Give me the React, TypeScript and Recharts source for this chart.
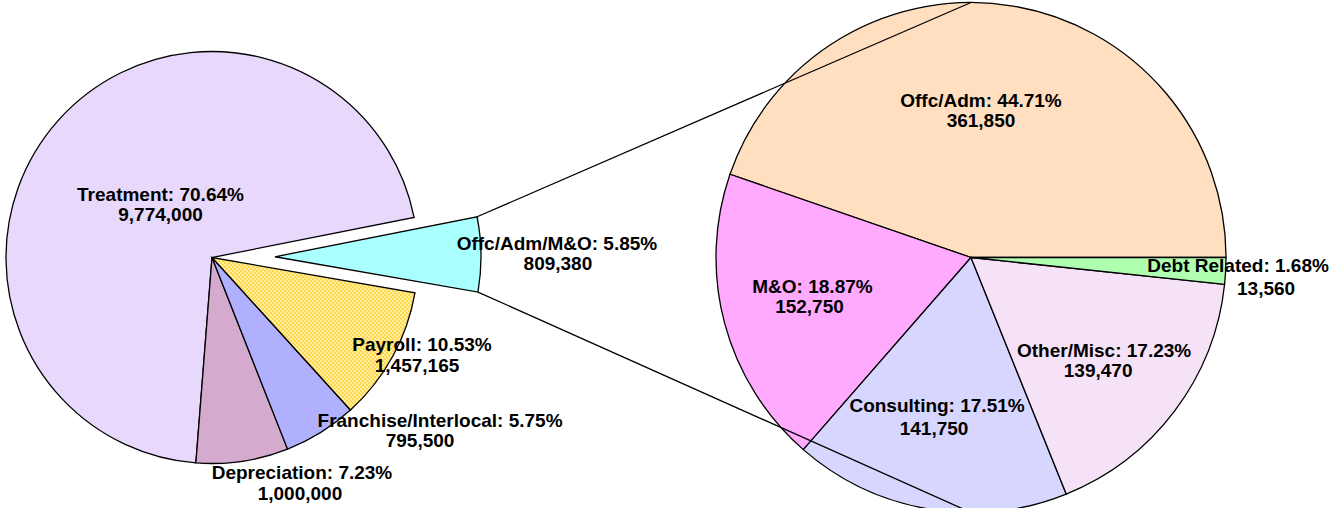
import React from 'react';
import { PieChart, Pie, Cell } from 'recharts';

// ---------- data ----------
const mainCategories = ['Treatment', 'Depreciation', 'Franchise/Interlocal', 'Payroll', 'Offc/Adm/M&O'];
const mainValues = [9774000, 1000000, 795500, 1457165, 809380];
const subCategories = ['Offc/Adm', 'M&O', 'Consulting', 'Other/Misc', 'Debt Related'];
const subValues = [361850, 152750, 141750, 139470, 13560];
const EXPLODED_INDEX = 4; // "Offc/Adm/M&O" is broken out into the second pie

// ---------- styles / layout ----------
const mainColors = ['#E8D8FC', '#D4AACE', '#B0B0FF', 'url(#payrollPattern)', '#AAFFFF'];
const subColors = ['#FFDFBF', '#FFAAFF', '#D6D6FF', '#F6E2F6', '#B0FFB0'];

const W = 1330;
const H = 508;
const LEFT = { cx: 212, cy: 257.5, r: 206, start: 11.2 };
const EXPLODE = 63;
const RIGHT = { cx: 971, cy: 257.5, r: 255, start: 0 };
const FONT = "'Liberation Sans', Arial, Helvetica, sans-serif";

// label placement: angle (deg) & radius factor relative to pie centre, line gap, 2nd line x-shift
const mainLabelPos = [
  { a: 132.5, k: 0.37, gap: 20, dx2: 0 },
  { a: 292.1, k: 1.161, gap: 21, dx2: -2 },
  { a: 323.4, k: 1.379, gap: 20, dx2: -20 },
  { a: 336.0, k: 1.116, gap: 21, dx2: -5 },
  { a: 1.3, k: 1.369, gap: 20, dx2: 1 },
];
const subLabelPos = [
  { a: 86.2, k: 0.591, gap: 20, dx2: 0 },
  { a: 192.6, k: 0.637, gap: 20, dx2: -3 },
  { a: 257.6, k: 0.62, gap: 23, dx2: -3 },
  { a: 323.2, k: 0.652, gap: 20, dx2: -6 },
  { a: 356.9, k: 1.049, gap: 23, dx2: 28 },
];

const mainData = mainCategories.map((name, i) => ({ name, value: mainValues[i] }));
const subData = subCategories.map((name, i) => ({ name, value: subValues[i] }));
const mainTotal = mainValues.reduce((s, v) => s + v, 0);
const subTotal = subValues.reduce((s, v) => s + v, 0);

const rad = (d: number) => (d * Math.PI) / 180;

// geometry of exploded slice
const explodedShare = mainValues[EXPLODED_INDEX] / mainTotal;
const leftEnd = LEFT.start + 360;
const explodedStart = leftEnd - 360 * explodedShare;
const explodedMid = (explodedStart + leftEnd) / 2;
const EX_CX = LEFT.cx + EXPLODE * Math.cos(rad(explodedMid));
const EX_CY = LEFT.cy - EXPLODE * Math.sin(rad(explodedMid));

const makeLabel =
  (layout: any[], values: number[], total: number, only?: number) =>
  (props: any) => {
    const { cx, cy, outerRadius, index, name } = props;
    if (only !== undefined && index !== only) return null;
    if (only === undefined && index === EXPLODED_INDEX && layout === mainLabelPos) return null;
    const p = layout[index];
    const x = cx + outerRadius * p.k * Math.cos(rad(p.a));
    const y = cy - outerRadius * p.k * Math.sin(rad(p.a));
    const pct = ((values[index] / total) * 100).toFixed(2);
    return (
      <text
        key={`lbl-${index}`}
        x={x}
        y={y}
        textAnchor="middle"
        fontFamily={FONT}
        fontWeight="bold"
        fontSize={19}
        fill="#000"
      >
        <tspan x={x} y={y}>{`${name}: ${pct}%`}</tspan>
        <tspan x={x + p.dx2} y={y + p.gap}>{values[index].toLocaleString('en-US')}</tspan>
      </text>
    );
  };

export default function App() {
  const upper = {
    x: EX_CX + LEFT.r * Math.cos(rad(leftEnd)),
    y: EX_CY - LEFT.r * Math.sin(rad(leftEnd)),
  };
  const lower = {
    x: EX_CX + LEFT.r * Math.cos(rad(explodedStart)),
    y: EX_CY - LEFT.r * Math.sin(rad(explodedStart)),
  };
  return (
    <div style={{ position: 'absolute', left: 0, top: 0, width: W, height: H, background: '#fff', overflow: 'hidden' }}>
      <PieChart width={W} height={H} margin={{ top: 0, right: 0, bottom: 0, left: 0 }}>
        <defs>
          <pattern id="payrollPattern" width="4" height="4" patternUnits="userSpaceOnUse">
            <rect x="0" y="0" width="4" height="4" fill="#FFD850" />
            <rect x="0" y="0" width="2" height="2" fill="#FFEE9E" />
            <rect x="2" y="2" width="2" height="2" fill="#FFEE9E" />
          </pattern>
        </defs>
        {/* left pie, exploded slice hidden */}
        <Pie
          data={mainData}
          dataKey="value"
          nameKey="name"
          cx={LEFT.cx}
          cy={LEFT.cy}
          outerRadius={LEFT.r}
          startAngle={LEFT.start}
          endAngle={leftEnd}
          isAnimationActive={false}
          labelLine={false}
          label={makeLabel(mainLabelPos, mainValues, mainTotal)}
        >
          {mainData.map((d, i) => (
            <Cell
              key={d.name}
              fill={i === EXPLODED_INDEX ? 'none' : mainColors[i]}
              stroke={i === EXPLODED_INDEX ? 'none' : '#000'}
              strokeWidth={1.3}
            />
          ))}
        </Pie>
        {/* left pie, exploded slice only */}
        <Pie
          data={mainData}
          dataKey="value"
          nameKey="name"
          cx={EX_CX}
          cy={EX_CY}
          outerRadius={LEFT.r}
          startAngle={LEFT.start}
          endAngle={leftEnd}
          isAnimationActive={false}
          labelLine={false}
          label={makeLabel(mainLabelPos, mainValues, mainTotal, EXPLODED_INDEX)}
        >
          {mainData.map((d, i) => (
            <Cell
              key={d.name}
              fill={i === EXPLODED_INDEX ? mainColors[i] : 'none'}
              stroke={i === EXPLODED_INDEX ? '#000' : 'none'}
              strokeWidth={1.3}
            />
          ))}
        </Pie>
        {/* right pie: breakdown */}
        <Pie
          data={subData}
          dataKey="value"
          nameKey="name"
          cx={RIGHT.cx}
          cy={RIGHT.cy}
          outerRadius={RIGHT.r}
          startAngle={RIGHT.start}
          endAngle={RIGHT.start + 360}
          isAnimationActive={false}
          labelLine={false}
          label={makeLabel(subLabelPos, subValues, subTotal)}
        >
          {subData.map((d, i) => (
            <Cell key={d.name} fill={subColors[i]} stroke="#000" strokeWidth={1.3} />
          ))}
        </Pie>
      </PieChart>
      <svg
        width={W}
        height={H}
        style={{ position: 'absolute', left: 0, top: 0, pointerEvents: 'none' }}
      >
        <line x1={upper.x} y1={upper.y} x2={RIGHT.cx} y2={RIGHT.cy - RIGHT.r} stroke="#000" strokeWidth={1.3} />
        <line x1={lower.x} y1={lower.y} x2={RIGHT.cx} y2={RIGHT.cy + RIGHT.r} stroke="#000" strokeWidth={1.3} />
      </svg>
    </div>
  );
}
